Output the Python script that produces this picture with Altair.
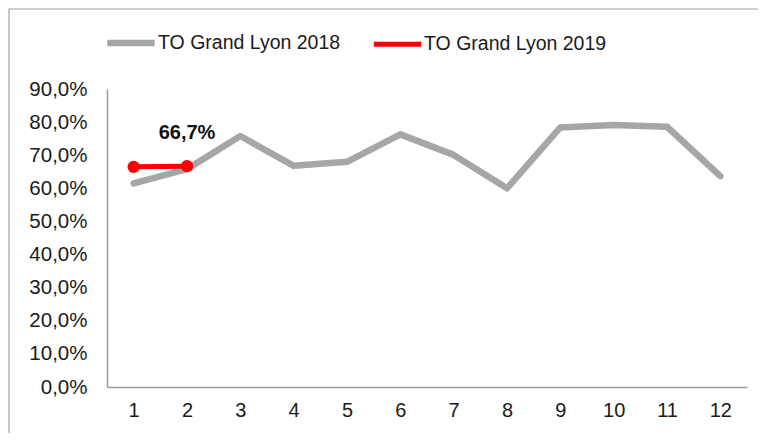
import altair as alt
import pandas as pd

months = [1, 2, 3, 4, 5, 6, 7, 8, 9, 10, 11, 12]
series_2018_name = "TO Grand Lyon 2018"
series_2019_name = "TO Grand Lyon 2019"
values_2018 = [61.5, 65.8, 75.8, 66.8, 68.0, 76.3, 70.1, 60.0, 78.4, 79.1, 78.6, 63.7]
months_2019 = [1, 2]
values_2019 = [66.5, 66.7]
y_ticks = [0, 10, 20, 30, 40, 50, 60, 70, 80, 90]
label_text = "66,7%"

rows = []
for m, v in zip(months, values_2018):
    rows.append({"month": m, "value": v, "series": series_2018_name})
for m, v in zip(months_2019, values_2019):
    rows.append({"month": m, "value": v, "series": series_2019_name})
df = pd.DataFrame(rows)
df19 = df[df["series"] == series_2019_name]
lab = pd.DataFrame({"month": [months_2019[-1]], "value": [values_2019[-1]], "label": [label_text]})

FONT = "Liberation Sans"

x = alt.X("month:O", scale=alt.Scale(type="point", padding=0.5),
          axis=alt.Axis(title=None, labelAngle=0, ticks=False, labelPadding=13,
                        labelFontSize=20, domainColor="#9a9a9a", domainWidth=1.5))
y = alt.Y("value:Q", scale=alt.Scale(domain=[0, 90], nice=False),
          axis=alt.Axis(title=None, values=y_ticks, grid=False, ticks=False,
                        labelPadding=20, labelFontSize=20.5, domainColor="#9a9a9a", domainWidth=1.5,
                        labelExpr="replace(format(datum.value, '.1f'), '.', ',') + '%'"))

color = alt.Color("series:N",
                  scale=alt.Scale(domain=[series_2018_name, series_2019_name], range=["#a6a6a6", "#ff0000"]),
                  legend=alt.Legend(title=None, orient="none", direction="horizontal",
                                    legendX=-3, legendY=-73, symbolType="stroke",
                                    symbolSize=2250, symbolStrokeWidth=6, labelFontSize=19.5,
                                    labelOffset=0, columnPadding=22, labelColor="#1a1a1a",
                                    labelFont=FONT, labelLimit=400))

lines = alt.Chart(df).mark_line(strokeCap="round", strokeJoin="round").encode(
    x=x, y=y, color=color,
    strokeWidth=alt.StrokeWidth("series:N",
                                scale=alt.Scale(domain=[series_2018_name, series_2019_name], range=[6.5, 5]),
                                legend=None),
    order=alt.Order("month:O"),
)

pts = alt.Chart(df19).mark_circle(size=150, opacity=1, color="#ff0000").encode(x=x, y=y)

txt = alt.Chart(lab).mark_text(fontSize=20, fontWeight="bold", dy=-33, color="#111111", font=FONT).encode(
    x=x, y=y, text="label:N")

border = alt.Chart(lab).mark_rect(fill=None, stroke="#a0a0a0", strokeWidth=1.2).encode(
    x=alt.value(-98), x2=alt.value(800), y=alt.value(-80), y2=alt.value(500))

chart = alt.layer(border, lines, pts, txt).properties(
    width=640, height=298,
    autosize=alt.AutoSizeParams(type="none"),
    padding={"left": 99, "top": 81, "right": 11, "bottom": 46},
).configure_view(stroke=None).configure_axis(
    labelFont=FONT, labelColor="#1a1a1a"
)

chart.save("out.html", embed_options={"renderer": "svg", "actions": False})
